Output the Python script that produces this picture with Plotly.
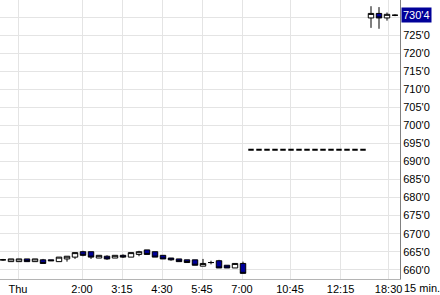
import plotly.graph_objects as go

# bar index (15-minute bars)
bar_index = list(range(50))

opens = [662.75, 662.25, 662.25, 663.0, 662.25, 662.75, 662.75, 662.25, 663.0, 663.5,
         665.0, 665.0, 663.25, 663.75, 663.25, 664.0, 663.5, 664.25, 665.5, 665.0,
         664.0, 663.25, 663.0, 662.75, 662.75, 661.0, 662.0, 662.5, 661.25, 660.5,
         661.75]
highs = [663.0, 663.0, 663.0, 663.0, 663.0, 663.0, 662.75, 663.5, 663.75, 664.75,
         665.25, 665.0, 664.0, 664.0, 664.0, 664.25, 664.75, 665.25, 665.5, 665.0,
         664.0, 663.25, 663.0, 662.75, 662.75, 663.0, 662.5, 662.75, 661.25, 661.75,
         662.25]
lows = [662.5, 662.25, 662.25, 662.25, 662.25, 661.75, 662.5, 662.25, 662.25, 663.0,
        663.75, 663.0, 663.25, 662.75, 663.25, 663.25, 663.5, 663.75, 664.25, 663.5,
        663.0, 662.5, 662.25, 662.0, 661.25, 661.0, 661.5, 660.5, 660.5, 660.5,
        659.0]
closes = [662.75, 663.0, 663.0, 662.25, 663.0, 661.75, 662.5, 663.5, 663.75, 664.75,
          664.0, 663.5, 664.0, 663.0, 664.0, 663.5, 664.75, 665.0, 664.25, 663.5,
          663.0, 662.75, 662.25, 662.0, 661.25, 661.75, 662.0, 660.5, 660.5, 661.75,
          659.0]

# flat bars (no trading) between sessions
flat_price = [693.25] * 15

# evening session bars
eve_open = [729.75, 731.0, 729.75, 730.5]
eve_high = [733.0, 732.75, 731.25, 730.75]
eve_low = [727.0, 726.75, 729.0, 730.25]
eve_close = [731.0, 729.75, 730.75, 730.5]

x_tick_pos = [1.875, 9.875, 14.875, 19.875, 24.875, 29.875, 35.875, 42.2, 48.2]
x_tick_text = ["Thu", "2:00", "3:15", "4:30", "5:45", "7:00", "10:45", "12:15", "18:30"]

y_tick_vals = [660, 665, 670, 675, 680, 685, 690, 695, 700, 705, 710, 715, 720, 725, 730]
y_tick_text = [f"{v}'0" for v in y_tick_vals[:-1]] + [""]

last_price = 730.5
last_label = "730'4"

NAVY = "#000099"
FONT = "Liberation Sans, Arial, sans-serif"

all_o = opens + flat_price + eve_open
all_h = highs + flat_price + eve_high
all_l = lows + flat_price + eve_low
all_c = closes + flat_price + eve_close

n_day = len(opens)
n_flat = len(flat_price)
main_idx = list(range(n_day)) + list(range(n_day + n_flat, len(all_o)))
flat_idx = list(range(n_day, n_day + n_flat))

fig = go.Figure()
fig.add_trace(go.Candlestick(
    x=[bar_index[i] for i in main_idx],
    open=[all_o[i] for i in main_idx],
    high=[all_h[i] for i in main_idx],
    low=[all_l[i] for i in main_idx],
    close=[all_c[i] for i in main_idx],
    increasing=dict(fillcolor="white", line=dict(color="black", width=1)),
    decreasing=dict(fillcolor=NAVY, line=dict(color="black", width=1)),
    showlegend=False, hoverinfo="skip",
))
fig.add_trace(go.Candlestick(
    x=[bar_index[i] for i in flat_idx],
    open=[all_o[i] for i in flat_idx],
    high=[all_h[i] for i in flat_idx],
    low=[all_l[i] for i in flat_idx],
    close=[all_c[i] for i in flat_idx],
    increasing=dict(fillcolor="black", line=dict(color="black", width=2)),
    decreasing=dict(fillcolor="black", line=dict(color="black", width=2)),
    showlegend=False, hoverinfo="skip",
))

fig.update_layout(
    width=440, height=295,
    margin=dict(l=0, r=40, t=0, b=14),
    paper_bgcolor="white", plot_bgcolor="white",
    font=dict(family=FONT, size=11, color="black"),
    boxgap=0.15, boxgroupgap=0.2,
    xaxis=dict(
        range=[-0.375, 49.625], rangeslider=dict(visible=False),
        tickmode="array", tickvals=x_tick_pos, ticktext=x_tick_text,
        showgrid=True, gridcolor="#e4e4e4", gridwidth=1,
        showline=True, linecolor="#b4b4b4", linewidth=1,
        ticks="", zeroline=False, fixedrange=True,
    ),
    yaxis=dict(
        side="right", range=[657.44, 734.72],
        tickmode="array", tickvals=y_tick_vals, ticktext=y_tick_text,
        showgrid=True, gridcolor="#e4e4e4", gridwidth=1,
        showline=True, linecolor="#808080", linewidth=1,
        ticks="", zeroline=False, fixedrange=True,
    ),
    annotations=[
        dict(x=1, xref="paper", y=last_price, yref="y", xanchor="left", yanchor="middle",
             text=last_label, showarrow=False, bgcolor=NAVY, xshift=1,
             font=dict(color="white", size=11, family=FONT), borderpad=1),
        dict(x=1, xref="paper", y=0, yref="paper", xanchor="left", yanchor="top",
             text="15 min.", showarrow=False, xshift=2, yshift=-1,
             font=dict(color="black", size=11, family=FONT)),
    ],
)

fig.write_html("out.html")
